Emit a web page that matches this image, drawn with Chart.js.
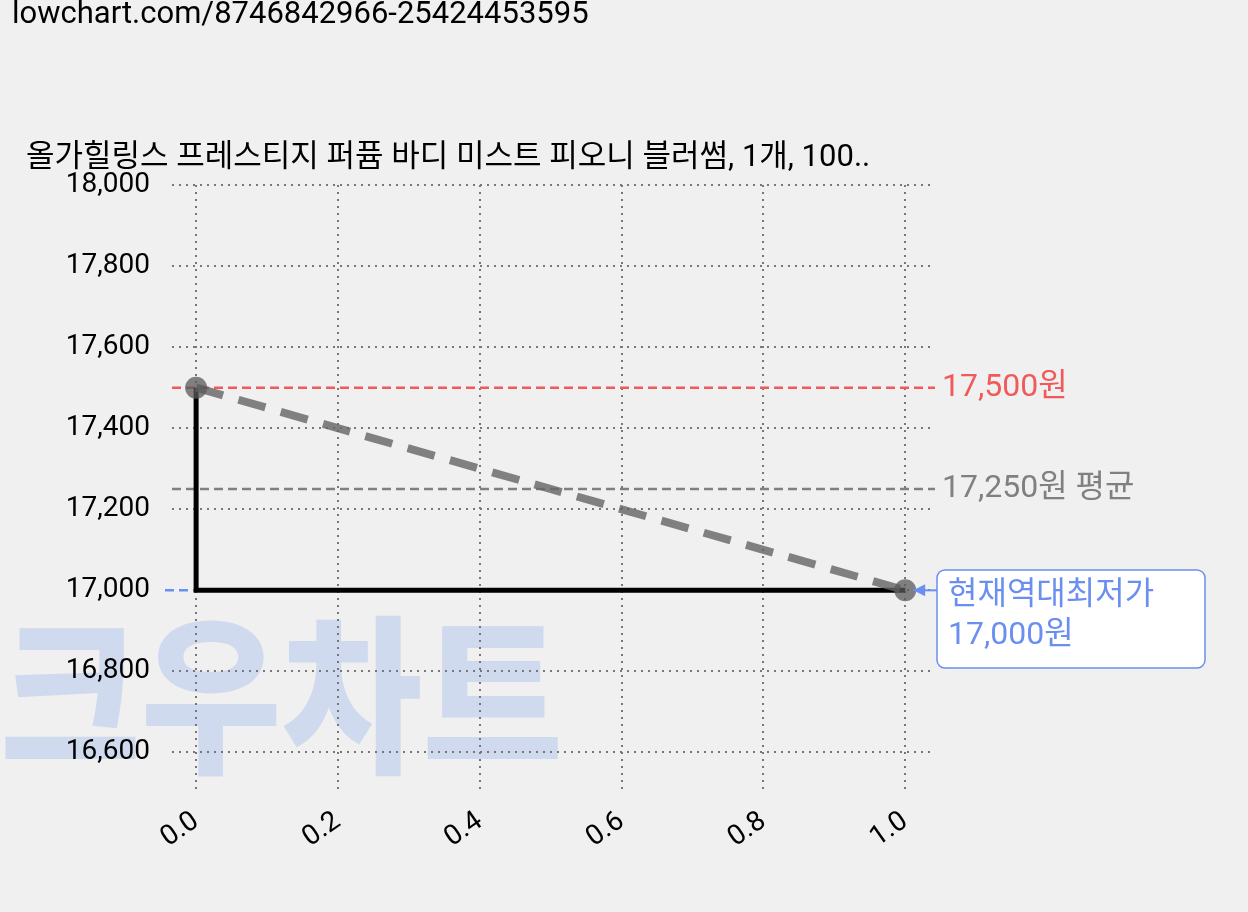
<!DOCTYPE html>
<html><head><meta charset="utf-8">
<script src="https://cdn.jsdelivr.net/npm/chart.js@4"></script>
<style>html,body{margin:0;background:#f0f0f0}canvas{display:block}</style>
</head><body><canvas id="c" width="1248" height="912"></canvas>
<script>
const xTicks=[0,0.2,0.4,0.6,0.8,1.0];
const yTicks=[16600,16800,17000,17200,17400,17600,17800,18000];
const stepX=[0,0,1];
const stepY=[17500,17000,17000];
const trendX=[0,1];
const trendY=[17500,17000];
const maxPrice=17500, avgPrice=17250, minPrice=17000;
const FONT='Roboto,"Noto Sans CJK KR",sans-serif';
const deco={id:'deco',
 beforeDraw(ch){const c=ch.ctx;c.save();c.fillStyle='#f0f0f0';c.fillRect(0,0,ch.width,ch.height);
  c.fillStyle='rgba(160,185,235,0.4)';c.font='900 170px "Noto Sans CJK KR"';c.textBaseline='alphabetic';
  c.save();c.translate(0,760);c.scale(0.9,1);c.fillText('크우차트',0,0);c.restore();
  c.fillStyle='#000';c.font='31px '+FONT;c.textBaseline='top';c.fillText('lowchart.com/8746842966-25424453595',12,0);
  c.font='31px '+FONT;c.textBaseline='alphabetic';c.fillText('올가힐링스 프레스티지 퍼퓸 바디 미스트 피오니 블러썸, 1개, 100..',26,166);c.restore();},
 beforeDatasetsDraw(ch){const c=ch.ctx,x=ch.scales.x,y=ch.scales.y;c.save();c.lineWidth=2.5;c.setLineDash([9,5]);
  const L=(v,col,x0)=>{c.strokeStyle=col;c.beginPath();c.moveTo(x0,y.getPixelForValue(v));c.lineTo(935,y.getPixelForValue(v));c.stroke();};
  L(maxPrice,'#f05a5a',172);L(avgPrice,'#808080',172);
  c.strokeStyle='#6a8ff0';c.beginPath();c.moveTo(165,y.getPixelForValue(minPrice));c.lineTo(x.getPixelForValue(1),y.getPixelForValue(minPrice));c.stroke();
  c.restore();},
 afterDraw(ch){const c=ch.ctx,y=ch.scales.y,x=ch.scales.x;c.save();c.font='32px '+FONT;c.textBaseline='middle';
  c.fillStyle='#f05a5a';c.fillText('17,500원',942,y.getPixelForValue(maxPrice));
  c.fillStyle='#808080';c.fillText('17,250원 평균',942,y.getPixelForValue(avgPrice));
  const yy=y.getPixelForValue(minPrice);
  c.fillStyle='#fff';c.strokeStyle='#6a8ff0';c.lineWidth=1.5;c.beginPath();c.roundRect(937,570,268,98,8);c.fill();c.stroke();
  c.fillStyle='#6a8ff0';c.fillText('현재역대최저가',948,596);c.fillText('17,000원',948,636);
  c.strokeStyle='#6a8ff0';c.lineWidth=2;c.beginPath();c.moveTo(937,yy);c.lineTo(x.getPixelForValue(1)+8,yy);c.stroke();
  c.beginPath();c.moveTo(x.getPixelForValue(1)+8,yy);c.lineTo(x.getPixelForValue(1)+20,yy-6);c.lineTo(x.getPixelForValue(1)+20,yy+6);c.closePath();c.fill();
  c.restore();}};
new Chart(document.getElementById('c'),{type:'scatter',
 data:{datasets:[
  {data:trendX.map((v,i)=>({x:v,y:trendY[i]})),showLine:true,borderColor:'rgba(100,100,100,0.8)',borderWidth:8,borderDash:[28,16],pointRadius:11,pointBackgroundColor:'rgba(90,90,90,0.75)',pointBorderWidth:0},
  {data:stepX.map((v,i)=>({x:v,y:stepY[i]})),showLine:true,borderColor:'#000',borderWidth:5,pointRadius:0}
 ]},
 options:{responsive:false,animation:false,layout:{padding:{top:185,right:313,left:0,bottom:0}},
  plugins:{legend:{display:false},tooltip:{enabled:false}},
  scales:{
   x:{type:'linear',min:-0.034,max:1.042,afterBuildTicks:s=>{s.ticks=xTicks.map(v=>({value:v}))},afterFit:s=>{s.height=119},
    border:{display:false,dash:[2,5]},grid:{color:'#777',lineWidth:2,drawTicks:false},
    ticks:{minRotation:35,maxRotation:35,padding:12,color:'#000',font:{size:28,family:FONT},callback:v=>v.toFixed(1)}},
   y:{min:16500,max:18000,afterBuildTicks:s=>{s.ticks=yTicks.map(v=>({value:v}))},afterFit:s=>{s.width=172},
    border:{display:false,dash:[2,5]},grid:{color:'#777',lineWidth:2,drawTicks:false},
    ticks:{padding:22,color:'#000',font:{size:28,family:FONT},callback:v=>v.toLocaleString('en-US')}}
  }},plugins:[deco]});
</script></body></html>
